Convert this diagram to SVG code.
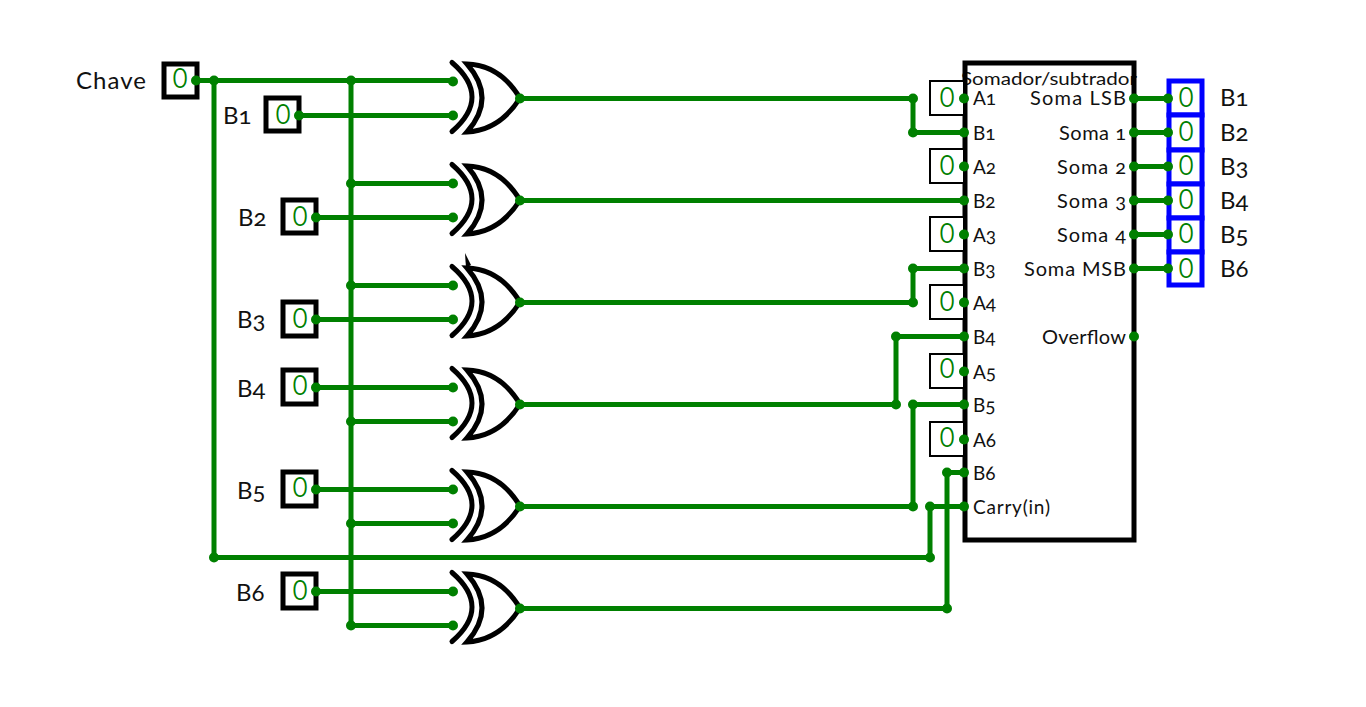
<svg xmlns="http://www.w3.org/2000/svg" width="1366" height="707" viewBox="0 0 1366 707">
<style>
text{font-family:"Lato","Open Sans","Liberation Sans",sans-serif;fill:#111;font-feature-settings:"onum"}
.w{fill:none;stroke:#008000;stroke-width:5;stroke-linejoin:miter}
.d{fill:#008000}
.g{fill:none;stroke:#000;stroke-width:5;stroke-linecap:round;stroke-linejoin:miter}
.box{fill:#fff;stroke:#000;stroke-width:5}
.pin{fill:#fff;stroke:#000;stroke-width:2}
.out{fill:#fff;stroke:#00f;stroke-width:5}
text.v{font-family:"Inter","Liberation Sans",sans-serif;font-size:27px;fill:#008000;text-anchor:middle;font-feature-settings:normal;font-weight:300}
.l{font-size:24px}
.p{font-size:19px}
.t{font-size:18px}
.r{font-size:20px;text-anchor:end}
</style>
<defs>
<g id="xor">
<path class="g" d="M452 62.5Q492 97 452 131.5"/>
<path class="g" d="M467 64Q497 98 467 132Q500 130 520 98Q500 65 467 64Z"/>
</g>
<circle id="dot" r="5" class="d"/>
</defs>
<g id="gates">
<use id="gate1" href="#xor"/>
<use id="gate2" href="#xor" y="102"/>
<g id="gate3"><use href="#xor" y="204"/><path fill="#000" d="M465 253L466 268L471 265Z"/></g>
<use id="gate4" href="#xor" y="306"/>
<use id="gate5" href="#xor" y="408"/>
<use id="gate6" href="#xor" y="510"/>
</g>
<g id="adder">
<text x="1049" y="85" class="t" text-anchor="middle" textLength="176" lengthAdjust="spacingAndGlyphs">Somador/subtrador</text>
<rect x="965" y="63" width="169" height="477" fill="none" stroke="#000" stroke-width="5"/>
<g class="p">
<text x="973" y="105">A1</text><text x="973" y="140">B1</text>
<text x="973" y="174">A2</text><text x="973" y="208">B2</text>
<text x="973" y="242">A3</text><text x="973" y="276">B3</text>
<text x="973" y="310">A4</text><text x="973" y="344">B4</text>
<text x="973" y="379">A5</text><text x="973" y="412">B5</text>
<text x="973" y="447">A6</text><text x="973" y="480">B6</text>
<text x="973" y="514" textLength="77">Carry(in)</text>
</g>
<g>
<text class="r" x="1126" y="105" textLength="96">Soma LSB</text>
<text class="r" x="1126" y="140" textLength="67">Soma 1</text>
<text class="r" x="1126" y="174" textLength="69">Soma 2</text>
<text class="r" x="1126" y="208" textLength="69">Soma 3</text>
<text class="r" x="1126" y="242" textLength="69">Soma 4</text>
<text class="r" x="1126" y="276" textLength="102">Soma MSB</text>
<text class="r" x="1126" y="344" textLength="84">Overflow</text>
</g>
</g>
<g id="pinA1"><rect class="pin" x="930" y="81" width="34" height="34"/><text class="v" x="947" y="107">0</text></g>
<g id="pinA2"><rect class="pin" x="930" y="149" width="34" height="34"/><text class="v" x="947" y="175">0</text></g>
<g id="pinA3"><rect class="pin" x="930" y="217" width="34" height="34"/><text class="v" x="947" y="243">0</text></g>
<g id="pinA4"><rect class="pin" x="930" y="285" width="34" height="34"/><text class="v" x="947" y="311">0</text></g>
<g id="pinA5"><rect class="pin" x="930" y="354" width="34" height="34"/><text class="v" x="947" y="378">0</text></g>
<g id="pinA6"><rect class="pin" x="930" y="422" width="34" height="34"/><text class="v" x="947" y="447">0</text></g>
<g id="inChave"><rect class="box" x="164" y="64" width="33" height="33"/><text class="v" x="180" y="88">0</text><text class="l" x="76" y="89" textLength="70">Chave</text></g>
<g id="inB1"><rect class="box" x="266" y="98" width="33" height="33"/><text class="v" x="283" y="124">0</text><text class="l" x="223" y="124">B1</text></g>
<g id="inB2"><rect class="box" x="283" y="200" width="33" height="33"/><text class="v" x="300" y="226">0</text><text class="l" x="238" y="226">B2</text></g>
<g id="inB3"><rect class="box" x="283" y="302" width="33" height="34"/><text class="v" x="300" y="328">0</text><text class="l" x="237" y="328">B3</text></g>
<g id="inB4"><rect class="box" x="283" y="370" width="33" height="34"/><text class="v" x="300" y="395">0</text><text class="l" x="237" y="397">B4</text></g>
<g id="inB5"><rect class="box" x="283" y="472" width="33" height="34"/><text class="v" x="300" y="497">0</text><text class="l" x="237" y="499">B5</text></g>
<g id="inB6"><rect class="box" x="283" y="574" width="33" height="34"/><text class="v" x="300" y="600">0</text><text class="l" x="236" y="601">B6</text></g>
<g id="outB1"><rect class="out" x="1169" y="81" width="33" height="34"/><text class="v" x="1186" y="107">0</text><text class="l" x="1220" y="106">B1</text></g>
<g id="outB2"><rect class="out" x="1169" y="115" width="33" height="35"/><text class="v" x="1186" y="141">0</text><text class="l" x="1220" y="141">B2</text></g>
<g id="outB3"><rect class="out" x="1169" y="150" width="33" height="34"/><text class="v" x="1186" y="175">0</text><text class="l" x="1220" y="175">B3</text></g>
<g id="outB4"><rect class="out" x="1169" y="184" width="33" height="34"/><text class="v" x="1186" y="209">0</text><text class="l" x="1220" y="209">B4</text></g>
<g id="outB5"><rect class="out" x="1169" y="218" width="33" height="34"/><text class="v" x="1186" y="243">0</text><text class="l" x="1220" y="243">B5</text></g>
<g id="outB6"><rect class="out" x="1169" y="252" width="33" height="33"/><text class="v" x="1186" y="278">0</text><text class="l" x="1220" y="277">B6</text></g>
<g id="connectors" transform="translate(0 .5)">
<path class="w" d="M196 80H453M214 80V557H930V506M351 80V625"/>
<path class="w" d="M299 115H453M351 183H453M316 217H453M351 285H453M316 319H453M316 387H453M351 421H453M316 489H453M351 523H453M316 591H453M351 625H453"/>
<path class="w" d="M520 98H913M913 98V132H964M520 200H964M520 302H913V268H964M520 404H896V336H964M520 506H913V404H964M930 506H964M520 608H947V472H964"/>
<path class="w" d="M1134 98H1168M1134 132H1168M1134 166H1168M1134 200H1168M1134 234H1168M1134 268H1168"/>
<g id="dots">
<use href="#dot" x="196" y="80"/><use href="#dot" x="214" y="80"/><use href="#dot" x="351" y="80"/><use href="#dot" x="453" y="81"/>
<use href="#dot" x="299" y="115"/><use href="#dot" x="453" y="115"/>
<use href="#dot" x="351" y="183"/><use href="#dot" x="453" y="183"/><use href="#dot" x="316" y="217"/><use href="#dot" x="453" y="217"/>
<use href="#dot" x="351" y="285"/><use href="#dot" x="453" y="285"/><use href="#dot" x="316" y="319"/><use href="#dot" x="453" y="319"/>
<use href="#dot" x="316" y="387"/><use href="#dot" x="453" y="387"/><use href="#dot" x="351" y="421"/><use href="#dot" x="453" y="421"/>
<use href="#dot" x="316" y="489"/><use href="#dot" x="453" y="489"/><use href="#dot" x="351" y="523"/><use href="#dot" x="453" y="523"/>
<use href="#dot" x="316" y="591"/><use href="#dot" x="453" y="591"/><use href="#dot" x="351" y="625"/><use href="#dot" x="453" y="625"/>
<use href="#dot" x="520" y="98"/><use href="#dot" x="520" y="200"/><use href="#dot" x="520" y="302"/><use href="#dot" x="520" y="404"/><use href="#dot" x="520" y="506"/><use href="#dot" x="520" y="608"/>
<use href="#dot" x="214" y="557"/><use href="#dot" x="930" y="557"/><use href="#dot" x="930" y="506"/>
<use href="#dot" x="913" y="98"/><use href="#dot" x="913" y="132"/><use href="#dot" x="913" y="302"/><use href="#dot" x="913" y="268"/>
<use href="#dot" x="896" y="404"/><use href="#dot" x="896" y="336"/><use href="#dot" x="913" y="506"/><use href="#dot" x="913" y="404"/>
<use href="#dot" x="947" y="608"/><use href="#dot" x="947" y="472"/>
<use href="#dot" x="964" y="98"/><use href="#dot" x="964" y="132"/><use href="#dot" x="964" y="166"/><use href="#dot" x="964" y="200"/><use href="#dot" x="964" y="234"/><use href="#dot" x="964" y="268"/><use href="#dot" x="964" y="302"/><use href="#dot" x="964" y="336"/><use href="#dot" x="964" y="371"/><use href="#dot" x="964" y="404"/><use href="#dot" x="964" y="439"/><use href="#dot" x="964" y="472"/><use href="#dot" x="964" y="506"/>
<use href="#dot" x="1134" y="98"/><use href="#dot" x="1134" y="132"/><use href="#dot" x="1134" y="166"/><use href="#dot" x="1134" y="200"/><use href="#dot" x="1134" y="234"/><use href="#dot" x="1134" y="268"/><use href="#dot" x="1134" y="336"/>
<use href="#dot" x="1168" y="98"/><use href="#dot" x="1168" y="132"/><use href="#dot" x="1168" y="166"/><use href="#dot" x="1168" y="200"/><use href="#dot" x="1168" y="234"/><use href="#dot" x="1168" y="268"/>
</g>
</g>
</svg>
